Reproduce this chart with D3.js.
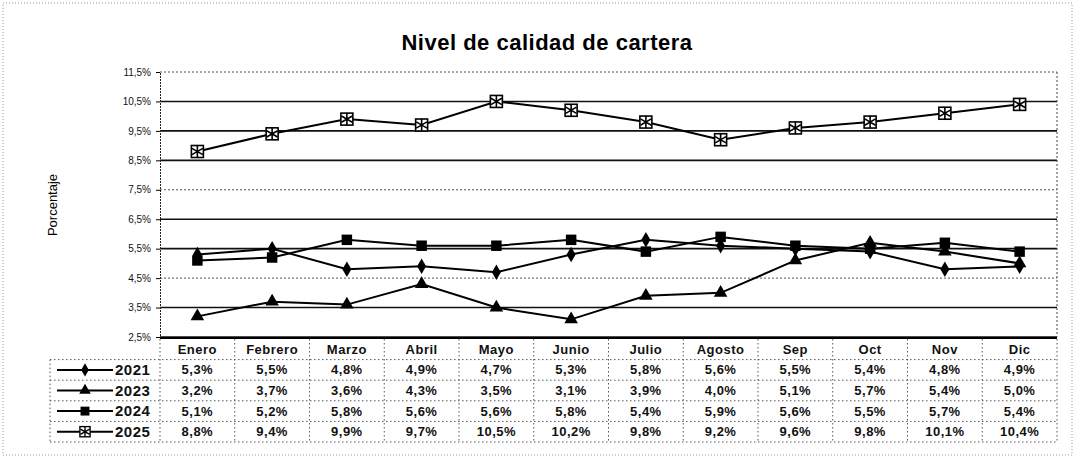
<!DOCTYPE html>
<html><head><meta charset="utf-8">
<script src="https://cdn.jsdelivr.net/npm/d3@7"></script>
<style>
html,body{margin:0;padding:0;background:#fff;}
svg{display:block;font-family:"Liberation Sans",Arial,sans-serif;}
</style></head>
<body>
<svg id="c" width="1077" height="462"></svg>
<script>
const months = ["Enero","Febrero","Marzo","Abril","Mayo","Junio","Julio","Agosto","Sep","Oct","Nov","Dic"];
const seriesNames = ["2021","2023","2024","2025"];
const v2021 = [5.3,5.5,4.8,4.9,4.7,5.3,5.8,5.6,5.5,5.4,4.8,4.9];
const v2023 = [3.2,3.7,3.6,4.3,3.5,3.1,3.9,4.0,5.1,5.7,5.4,5.0];
const v2024 = [5.1,5.2,5.8,5.6,5.6,5.8,5.4,5.9,5.6,5.5,5.7,5.4];
const v2025 = [8.8,9.4,9.9,9.7,10.5,10.2,9.8,9.2,9.6,9.8,10.1,10.4];
const yTicks = [2.5,3.5,4.5,5.5,6.5,7.5,8.5,9.5,10.5,11.5];
const markerTypes = ["diamond","triangle","square","star"];
const seriesValues = [v2021,v2023,v2024,v2025];

const svg = d3.select("#c");
const L = 160, R = 1057, T = 72, B = 337;
const x = d3.scaleBand().domain(months).range([L, R]);
const y = d3.scaleLinear().domain([2.5, 11.5]).range([B, T]);
const fmt = v => d3.format(".1f")(v).replace(".", ",") + "%";

// outer border
svg.append("rect").attr("x",3).attr("y",3).attr("width",1069).attr("height",452)
  .attr("fill","none").attr("stroke","#999").attr("stroke-width",1).attr("stroke-dasharray","1,2");

// title
svg.append("text").attr("x",547).attr("y",50).attr("text-anchor","middle")
  .attr("font-size",22).attr("font-weight","bold").attr("letter-spacing",0.5)
  .text("Nivel de calidad de cartera");

// y axis title
svg.append("text").attr("transform","translate(57,205) rotate(-90)")
  .attr("text-anchor","middle").attr("font-size",13).text("Porcentaje");

// gridlines
svg.append("g").selectAll("line").data(yTicks).join("line")
  .attr("x1",L).attr("x2",R).attr("y1",d=>y(d)).attr("y2",d=>y(d))
  .attr("stroke", d => (d===4.5||d===7.5||d===11.5) ? "#555" : "#111")
  .attr("stroke-width", d => (d===4.5||d===7.5||d===11.5) ? 1 : 1.6)
  .attr("stroke-dasharray", d => (d===4.5||d===7.5||d===11.5) ? "2,2" : null);

// y axis
const yAxis = d3.axisLeft(y).tickValues(yTicks).tickSize(4).tickFormat(fmt);
const ga = svg.append("g").attr("transform",`translate(${L},0)`).call(yAxis);
ga.select(".domain").attr("stroke","#222").attr("stroke-dasharray","2,1");
ga.selectAll("text").attr("font-size",10).attr("font-family","'Liberation Sans',Arial,sans-serif").attr("fill","#111").attr("dx",-2);
// right border
svg.append("line").attr("x1",R).attr("x2",R).attr("y1",T).attr("y2",B)
  .attr("stroke","#444").attr("stroke-dasharray","2,2");

// markers
function marker(sel, type) {
  if (type === "diamond") {
    sel.append("path").attr("d", d3.symbol(d3.symbolDiamond, 70)()).attr("fill","#000");
  } else if (type === "triangle") {
    sel.append("path").attr("d", d3.symbol(d3.symbolTriangle, 80)()).attr("fill","#000");
  } else if (type === "square") {
    sel.append("path").attr("d", d3.symbol(d3.symbolSquare, 110)()).attr("fill","#000");
  } else {
    sel.append("rect").attr("x",-6).attr("y",-6).attr("width",12).attr("height",12)
      .attr("fill","#fff").attr("stroke","#000").attr("stroke-width",1.6);
    sel.append("path").attr("d", d3.symbol(d3.symbolAsterisk, 110)())
      .attr("fill","none").attr("stroke","#000").attr("stroke-width",1.6);
  }
}

const line = d3.line().x((d,i)=>x(months[i]) + x.bandwidth()/2).y(d=>y(d));
seriesValues.forEach((vals, si) => {
  svg.append("path").datum(vals).attr("d", line)
    .attr("fill","none").attr("stroke","#000").attr("stroke-width",2);
  svg.append("g").selectAll("g").data(vals).join("g")
    .attr("transform",(d,i)=>`translate(${x(months[i]) + x.bandwidth()/2},${y(d)})`)
    .each(function(){ marker(d3.select(this), markerTypes[si]); });
});

// data table
const tx0 = 50, rowH = 20.6, tTop = B + 2;
const tg = svg.append("g").attr("font-size",13).attr("font-weight","bold").attr("fill","#111");
// plot bottom solid line
svg.append("line").attr("x1",L).attr("x2",R).attr("y1",B+1).attr("y2",B+1).attr("stroke","#000").attr("stroke-width",2);
// categories row
tg.selectAll("text.cat").data(months).join("text").attr("class","cat")
  .attr("x",d=>x(d)+x.bandwidth()/2).attr("y",tTop + rowH/2 + 4.5)
  .attr("text-anchor","middle").attr("letter-spacing",0.5).text(d=>d);
// horizontal dotted lines
const hLines = [1,2,3,4,5];
tg.selectAll("line.h").data(hLines).join("line").attr("class","h")
  .attr("x1",d=> d===1? tx0 : tx0).attr("x2",R)
  .attr("y1",d=>tTop + d*rowH).attr("y2",d=>tTop + d*rowH)
  .attr("stroke","#555").attr("stroke-width",1).attr("stroke-dasharray","1.5,2.5");
// vertical dotted lines
const vx = [tx0, L].concat(months.map(m => x(m) + x.bandwidth()));
tg.selectAll("line.v").data(vx).join("line").attr("class","v")
  .attr("x1",d=>d).attr("x2",d=>d)
  .attr("y1",(d,i)=> i===0 ? tTop + rowH : tTop)
  .attr("y2",tTop + 5*rowH)
  .attr("stroke","#555").attr("stroke-width",1).attr("stroke-dasharray","1.5,2.5");

seriesValues.forEach((vals, si) => {
  const cy = tTop + (si+1)*rowH + rowH/2;
  // legend key
  const kg = svg.append("g");
  kg.append("line").attr("x1",57).attr("x2",113).attr("y1",cy).attr("y2",cy)
    .attr("stroke","#000").attr("stroke-width",2);
  const mg = kg.append("g").attr("transform",`translate(85,${cy})`);
  marker(mg, markerTypes[si]);
  mg.attr("transform",`translate(85,${cy}) scale(0.85)`);
  tg.append("text").attr("x",115).attr("y",cy+5).attr("font-size",15).attr("letter-spacing",0.5)
    .text(seriesNames[si]);
  tg.append("g").selectAll("text").data(vals).join("text")
    .attr("x",(d,i)=>x(months[i]) + x.bandwidth()/2).attr("y",cy+4.5)
    .attr("text-anchor","middle").attr("letter-spacing",0.5).text(fmt);
});
</script>
</body></html>
